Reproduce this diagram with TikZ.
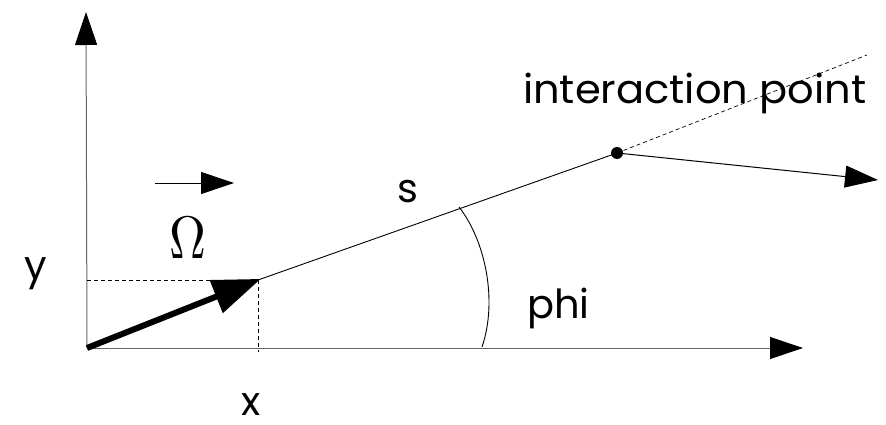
\documentclass[tikz,border=0pt]{standalone}
\usepackage{fontspec}
\setmainfont{Poppins}
\usetikzlibrary{arrows.meta}
\tikzset{
  lbl/.style={inner sep=0pt, outer sep=0pt, anchor=base west, font=\fontsize{40}{44}\selectfont},
  axis/.style={line width=1pt, draw=black!60, -{Triangle[length=33pt,width=22pt,color=black]}},
  thin/.style={line width=0.9pt},
  guide/.style={line width=0.8pt, dash pattern=on 4pt off 3pt},
  bigarrow/.style={line width=6pt, -{Triangle[length=48pt,width=34pt]}, shorten >=-3pt},
  headarrow/.style={line width=1pt, -{Triangle[length=33pt,width=22pt]}},
}
\begin{document}
\begin{tikzpicture}[x=1pt,y=-1pt]
\useasboundingbox (0,0) rectangle (886,425);
\coordinate (O) at (87,348);
\coordinate (ytip) at (86,12);
\coordinate (xtip) at (803,348);
\coordinate (P) at (258,280);
\coordinate (Py) at (87,280);
\coordinate (Px) at (258,352);
\coordinate (I) at (617,153);
\coordinate (E) at (867,55);
\coordinate (out) at (878,180);
\coordinate (ws) at (155,183);
\coordinate (we) at (234,183);
\coordinate (a1) at (459,207);
\coordinate (a2) at (482,347);
% axes
\draw[axis] (O) -- (ytip);
\draw[axis] (O) -- (xtip);
% guides
\draw[guide] (Py) -- (P);
\draw[guide] (P) -- (Px);
% trajectory
\draw[thin] (P) -- (I);
\draw[guide, line width=0.7pt] (I) -- (E);
\draw[headarrow] (I) -- (out);
\fill (I) circle (6pt);
% small arrow
\draw[headarrow] (ws) -- (we);
% big arrow
\draw[bigarrow] (O) -- (P);
% angle arc
\draw[thin] (a1) .. controls (485,240) and (498,300) .. (a2);
% labels
\node[lbl] (lint) at (523,104) {\scalebox{1.04}[1]{interaction point}};
\node[lbl] (ls) at (397,202) {s};
\node[lbl] (lphi) at (527,318) {phi};
\node[lbl] (ly) at (24,279) {y};
\node[lbl] (lx) at (241,415) {x};
\node[inner sep=0pt] (lom) at (188,238) {\scalebox{5.1}[6]{$\Omega$}};
\end{tikzpicture}
\end{document}
